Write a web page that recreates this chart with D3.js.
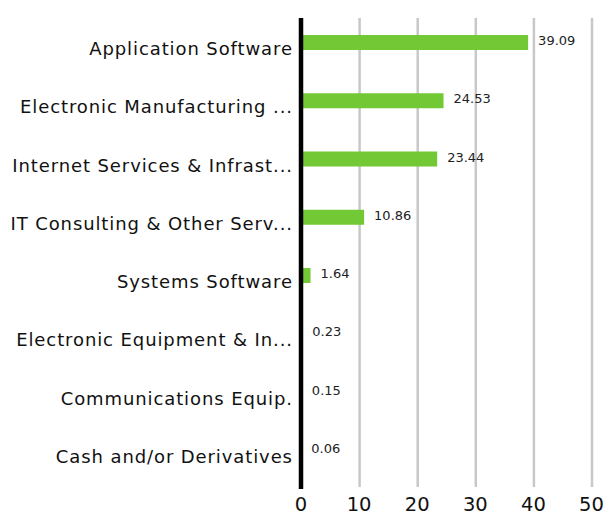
<!DOCTYPE html>
<html lang="en">
<head>
  <meta charset="UTF-8">
  <title>Sector Weights</title>
  <script src="https://d3js.org/d3.v7.min.js"></script>
  <style>
    body { margin: 0; background: #fff; font-family: "DejaVu Sans", sans-serif; }
    .grid line { stroke: #c8c8c8; stroke-width: 2.5; }
    .grid path { display: none; }
  </style>
</head>
<body>
<svg width="606" height="516"></svg>

<script>
  const categories = [
    "Application Software",
    "Electronic Manufacturing ...",
    "Internet Services & Infrast...",
    "IT Consulting & Other Serv...",
    "Systems Software",
    "Electronic Equipment & In...",
    "Communications Equip.",
    "Cash and/or Derivatives"
  ];
  const values = [39.09, 24.53, 23.44, 10.86, 1.64, 0.23, 0.15, 0.06];
  const xTicks = [0, 10, 20, 30, 40, 50];

  const svg = d3.select("svg"),
        margin = {top: 18, right: 14, bottom: 29, left: 301},
        width = +svg.attr("width") - margin.left - margin.right,
        height = +svg.attr("height") - margin.top - margin.bottom,
        g = svg.append("g").attr("transform", `translate(${margin.left},${margin.top})`);

  const x = d3.scaleLinear()
              .domain([0, 50])
              .range([0, 290.5]);

  const y = d3.scaleBand()
              .domain(categories)
              .range([2, height - 1]);

  const barH = 15;
  const spacing = 0.9;

  // gridlines
  g.append("g")
    .attr("class", "grid")
    .call(d3.axisBottom(x).tickValues(xTicks.slice(1)).tickSize(height).tickFormat(""));

  // bars
  g.selectAll("rect.bar")
    .data(values)
    .join("rect")
      .attr("class", "bar")
      .attr("x", x(0))
      .attr("y", (d, i) => y(categories[i]) + 15)
      .attr("width", d => x(d) - x(0))
      .attr("height", barH)
      .attr("fill", "#72c935");

  // value labels
  g.selectAll("text.val")
    .data(values)
    .join("text")
      .attr("class", "val")
      .attr("x", d => x(d) + 10)
      .attr("y", (d, i) => y(categories[i]) + 15 + 10)
      .attr("font-size", 13)
      .attr("fill", "#222")
      .text(d => d.toFixed(2));

  // category labels
  g.selectAll("text.cat")
    .data(categories)
    .join("text")
      .attr("class", "cat")
      .attr("x", -9 + spacing)
      .attr("y", d => y(d) + 35)
      .attr("text-anchor", "end")
      .attr("font-size", 18)
      .attr("letter-spacing", spacing)
      .attr("fill", "#111")
      .text(d => d);

  // axis line
  g.append("line")
    .attr("x1", x(0)).attr("x2", x(0))
    .attr("y1", 0).attr("y2", height + 2)
    .attr("stroke", "#000")
    .attr("stroke-width", 4.5);

  // x tick labels
  g.selectAll("text.tick")
    .data(xTicks)
    .join("text")
      .attr("class", "tick")
      .attr("x", d => x(d))
      .attr("y", height + 24)
      .attr("text-anchor", "middle")
      .attr("font-size", 19.5)
      .attr("fill", "#111")
      .text(d => d);
</script>
</body>
</html>
